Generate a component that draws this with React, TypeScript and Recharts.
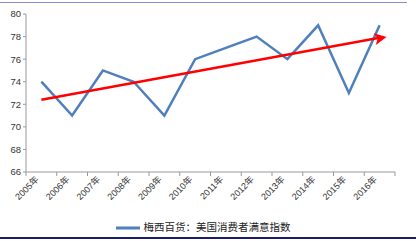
import { LineChart, Line, XAxis, YAxis, Legend } from "recharts";

const years = ["2005年", "2006年", "2007年", "2008年", "2009年", "2010年", "2011年", "2012年", "2013年", "2014年", "2015年", "2016年"];
const satisfaction = [74, 71, 75, 74, 71, 76, 77, 78, 76, 79, 73, 79];
const trend = [72.4, null, null, null, null, null, null, null, null, null, null, 77.9];
const yTicks = [66, 68, 70, 72, 74, 76, 78, 80];

const seriesName = "梅西百货：美国消费者满意指数";

const data = years.map((year, i) => ({
  year,
  value: satisfaction[i],
  trend: trend[i],
}));

const W = 416;
const H = 241;
const left = 26;
const right = 21;
const band = (W - left - right) / years.length;
const axisY = 172;

const XTick = (props: any) => {
  const { x, payload, index } = props;
  const bx = x - band / 2;
  const ty = axisY + 8;
  return (
    <g>
      <line x1={bx} y1={axisY} x2={bx} y2={axisY + 4} stroke="#999" />
      {index === years.length - 1 && (
        <line x1={bx + band} y1={axisY} x2={bx + band} y2={axisY + 4} stroke="#999" />
      )}
      <text
        x={x - 2}
        y={ty}
        textAnchor="end"
        fontSize={9}
        fill="#333"
        transform={`rotate(-45 ${x - 2} ${ty})`}
        fontFamily="'Liberation Sans', 'Noto Sans CJK SC', sans-serif"
      >
        {payload.value}
      </text>
    </g>
  );
};

const ArrowDot = (props: any) => {
  const { cx, cy, index } = props;
  if (index !== years.length - 1 || cx == null) return <g key={index} />;
  return (
    <g key={index} transform={`translate(${cx + 3} ${cy}) rotate(-10)`}>
      <polygon points="4,0 -8,-6 -5,0 -8,6" fill="#ff0000" />
    </g>
  );
};

export default function App() {
  return (
    <div style={{ position: "absolute", left: 0, top: 0, width: W, height: H, background: "#fff" }}>
      <div style={{ position: "absolute", left: 0, top: 2, width: 407, height: 1, background: "#8c8cc8" }} />
      <div style={{ position: "absolute", left: 0, top: 237, width: W, height: 2, background: "#1c1c6a" }} />
      <LineChart
        width={W}
        height={H}
        data={data}
        margin={{ top: 14, right: right, bottom: 9, left: 0 }}
        style={{ fontFamily: "'Liberation Sans', 'Noto Sans CJK SC', sans-serif" }}
      >
        <XAxis
          dataKey="year"
          scale="band"
          interval={0}
          height={40}
          tickLine={false}
          axisLine={{ stroke: "#999" }}
          tick={<XTick />}
        />
        <YAxis
          domain={[66, 80]}
          ticks={yTicks}
          width={26}
          axisLine={{ stroke: "#999" }}
          tickLine={{ stroke: "#999" }}
          tickSize={3}
          tick={{ fontSize: 9.5, fill: "#333" }}
        />
        <Legend
          verticalAlign="bottom"
          align="center"
          height={20}
          iconType="plainline"
          iconSize={24}
          wrapperStyle={{ fontSize: 10.5, top: 216, left: 0, width: W }}
          payload={[{ value: seriesName, type: "plainline", color: "#4f7fbd", payload: { strokeDasharray: "0" } } as any]}
          formatter={(v: string) => <span style={{ color: "#222" }}>{v}</span>}
        />
        <Line
          dataKey="value"
          name={seriesName}
          stroke="#4f7fbd"
          strokeWidth={2.5}
          dot={false}
          isAnimationActive={false}
        />
        <Line
          dataKey="trend"
          stroke="#ff0000"
          strokeWidth={2.5}
          connectNulls
          dot={<ArrowDot />}
          activeDot={false}
          legendType="none"
          isAnimationActive={false}
        />
      </LineChart>
    </div>
  );
}
